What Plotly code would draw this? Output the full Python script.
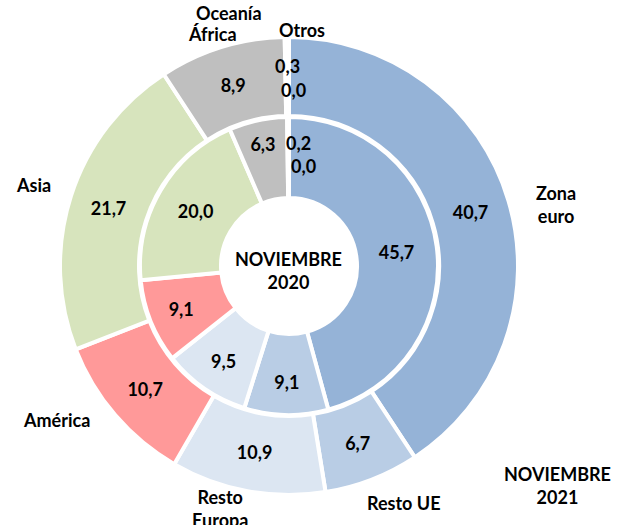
import plotly.graph_objects as go

categories = ["Zona euro", "Resto UE", "Resto Europa", "América", "Asia", "África", "Oceanía", "Otros"]
values_2021 = [40.7, 6.7, 10.9, 10.7, 21.7, 8.9, 0.3, 0.0]
values_2020 = [45.7, 9.1, 9.5, 9.1, 20.0, 6.3, 0.2, 0.0]
colors = ["#95B3D7", "#B9CDE5", "#DCE6F2", "#FF9999", "#D7E4BD", "#BFBFBF", "#FFFFFF", "#FFFFFF"]

W, H = 630, 525
cx, cy = 289, 266          # pie centre in pixels (from top)
R_out, R_in = 229, 149     # outer radii of the two rings


def dom(r):
    yb = H - cy
    return dict(x=[(cx - r) / W, (cx + r) / W], y=[(yb - r) / H, (yb + r) / H])


def fmt(v):
    return f"{v:.1f}".replace(".", ",")


FONT = "Lato"
tfont = dict(family=FONT, size=18, color="black", weight="bold")

fig = go.Figure()
fig.add_trace(go.Pie(
    labels=categories, values=values_2021, sort=False, direction="clockwise", rotation=0,
    hole=150 / R_out, domain=dom(R_out),
    marker=dict(colors=colors, line=dict(color="white", width=4)),
    texttemplate=["%{value:.1f}" if v >= 1 else "" for v in values_2021],
    textposition="inside", insidetextorientation="horizontal",
    textfont=tfont, showlegend=False, hoverinfo="label+value", name="Noviembre 2021",
))
fig.add_trace(go.Pie(
    labels=categories, values=values_2020, sort=False, direction="clockwise", rotation=0,
    hole=68 / R_in, domain=dom(R_in),
    marker=dict(colors=colors, line=dict(color="white", width=4)),
    texttemplate=["%{value:.1f}" if v >= 1 else "" for v in values_2020],
    textposition="inside", insidetextorientation="horizontal",
    textfont=tfont, showlegend=False, hoverinfo="label+value", name="Noviembre 2020",
))

ann = []


def add(text, x, y):
    ann.append(dict(text=text, x=x / W, y=1 - y / H, xref="paper", yref="paper",
                    showarrow=False, font=tfont, xanchor="center", yanchor="middle"))


# category labels
add("Zona<br>euro", 556, 205)
add("Resto UE", 404, 503)
add("Resto<br>Europa", 220, 508)
add("América", 56, 420)
add("Asia", 33, 185)
add("África", 212, 34)
add("Oceanía", 229, 13)
add("Otros", 302, 30)
add("NOVIEMBRE<br>2021", 557, 485)
add("NOVIEMBRE<br>2020", 288, 270)
# small slice values
add(fmt(values_2021[6]), 287, 66)
add(fmt(values_2021[7]), 293, 90)
add(fmt(values_2020[6]), 298, 143)
add(fmt(values_2020[7]), 303, 166)

fig.update_layout(
    width=W, height=H, margin=dict(l=0, r=0, t=0, b=0),
    paper_bgcolor="white", plot_bgcolor="white",
    separators=",.", annotations=ann, font=dict(family=FONT),
    uniformtext=dict(minsize=18, mode="show"),
)
fig.write_html("out.html", config={"displayModeBar": False},
               post_script="document.body.style.margin='0';")
